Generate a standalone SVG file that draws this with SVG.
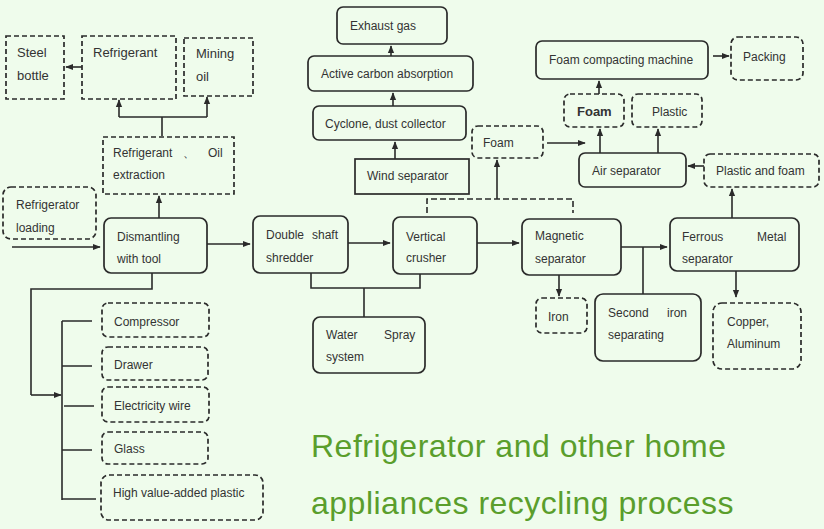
<svg xmlns="http://www.w3.org/2000/svg" width="824" height="529" viewBox="0 0 824 529">
<style>
.b{fill:none;stroke:#2a2a2a;stroke-width:1.7}
.d{fill:none;stroke:#2a2a2a;stroke-width:1.7;stroke-dasharray:5,3}
.c{fill:none;stroke:#2a2a2a;stroke-width:1.6}
.cd{fill:none;stroke:#2a2a2a;stroke-width:1.6;stroke-dasharray:6,3}
text{font-family:"Liberation Sans",Arial,sans-serif;font-size:12px;fill:#333}
.l{font-size:13px}
.t{font-size:32px;letter-spacing:0.5px;fill:#5a9e2c}
</style>
<defs>
<marker id="a" viewBox="0 0 10 10" refX="9" refY="5" markerWidth="5" markerHeight="5" orient="auto"><path d="M0,1L10,5L0,9z" fill="#2a2a2a"/></marker>
</defs>
<rect width="824" height="529" fill="#effcec"/>
<g id="connectors">
<path class="c" d="M82,67H66" marker-end="url(#a)"/>
<path class="c" d="M162,136V117M119,117H207"/>
<path class="c" d="M119,117V100" marker-end="url(#a)"/>
<path class="c" d="M207,117V97" marker-end="url(#a)"/>
<path class="c" d="M159,218V196" marker-end="url(#a)"/>
<path class="c" d="M12,247H100" marker-end="url(#a)"/>
<path class="c" d="M207,244H250" marker-end="url(#a)"/>
<path class="c" d="M348,243H390" marker-end="url(#a)"/>
<path class="c" d="M477,243H519" marker-end="url(#a)"/>
<path class="c" d="M621,247H667" marker-end="url(#a)"/>
<path class="c" d="M643,247V294"/>
<path class="c" d="M559,275V296" marker-end="url(#a)"/>
<path class="c" d="M736,271V297" marker-end="url(#a)"/>
<path class="c" d="M732,218V189" marker-end="url(#a)"/>
<path class="c" d="M704,166H688" marker-end="url(#a)"/>
<path class="c" d="M600,153V129" marker-end="url(#a)"/>
<path class="c" d="M658,153V129" marker-end="url(#a)"/>
<path class="c" d="M599,94V81" marker-end="url(#a)"/>
<path class="c" d="M713,56H729" marker-end="url(#a)"/>
<path class="c" d="M547,143H585" marker-end="url(#a)"/>
<path class="cd" d="M427,213V199H573V213"/>
<path class="c" d="M497,199V160" marker-end="url(#a)"/>
<path class="c" d="M395,159V142" marker-end="url(#a)"/>
<path class="c" d="M393,106V93" marker-end="url(#a)"/>
<path class="c" d="M391,56V46" marker-end="url(#a)"/>
<path class="c" d="M311,273V288H420V274M364,288V317"/>
<path class="c" d="M152,273V289H31V395"/>
<path class="c" d="M31,395H61" marker-end="url(#a)"/>
<path class="c" d="M62,321V500M62,321H92M62,366H92M64,406H94M62,450H92M62,499H96"/>
</g>
<g id="steel-bottle"><rect class="d" x="6" y="36" width="58" height="63"/><text class="l" x="17" y="57">Steel</text><text class="l" x="17" y="80">bottle</text></g>
<g id="refrigerant"><rect class="d" x="82" y="36" width="94" height="63"/><text class="l" x="93" y="57">Refrigerant</text></g>
<g id="mining-oil"><rect class="d" x="184" y="38" width="69" height="58"/><text class="l" x="196" y="58">Mining</text><text class="l" x="196" y="81">oil</text></g>
<g id="extraction"><rect class="d" x="103" y="137" width="131" height="57"/><text x="113" y="157">Refrigerant</text><text x="183" y="157">、</text><text x="208" y="157">Oil</text><text x="113" y="179">extraction</text></g>
<g id="loading"><rect class="d" x="3" y="187" width="93" height="52" rx="8"/><text x="16" y="209">Refrigerator</text><text x="16" y="232">loading</text></g>
<g id="dismantling"><rect class="b" x="104" y="218" width="103" height="55" rx="7"/><text x="117" y="241">Dismantling</text><text x="117" y="263">with tool</text></g>
<g id="shredder"><rect class="b" x="253" y="216" width="95" height="57" rx="7"/><text x="266" y="239">Double</text><text x="312" y="239">shaft</text><text x="266" y="262">shredder</text></g>
<g id="crusher"><rect class="b" x="393" y="217" width="84" height="57" rx="7"/><text x="406" y="241">Vertical</text><text x="406" y="262">crusher</text></g>
<g id="magnetic"><rect class="b" x="522" y="219" width="99" height="56" rx="7"/><text x="535" y="240">Magnetic</text><text x="535" y="263">separator</text></g>
<g id="ferrous"><rect class="b" x="670" y="218" width="129" height="53" rx="7"/><text x="682" y="241">Ferrous</text><text x="757" y="241">Metal</text><text x="682" y="263">separator</text></g>
<g id="second-iron"><rect class="b" x="595" y="294" width="106" height="67" rx="8"/><text x="608" y="317">Second</text><text x="667" y="317">iron</text><text x="608" y="339">separating</text></g>
<g id="copper"><rect class="d" x="713" y="303" width="88" height="66" rx="9"/><text x="727" y="326">Copper,</text><text x="727" y="348">Aluminum</text></g>
<g id="iron"><rect class="d" x="536" y="298" width="51" height="35" rx="6"/><text x="548" y="321">Iron</text></g>
<g id="water"><rect class="b" x="313" y="317" width="112" height="56" rx="7"/><text x="326" y="339">Water</text><text x="384" y="339">Spray</text><text x="326" y="361">system</text></g>
<g id="wind"><rect class="b" x="355" y="159" width="114" height="35"/><text x="367" y="180">Wind separator</text></g>
<g id="cyclone"><rect class="b" x="313" y="106" width="153" height="34" rx="6"/><text x="325" y="128">Cyclone, dust collector</text></g>
<g id="carbon"><rect class="b" x="308" y="56" width="165" height="35" rx="6"/><text x="321" y="78">Active carbon absorption</text></g>
<g id="exhaust"><rect class="b" x="337" y="7" width="110" height="37" rx="6"/><text x="350" y="30">Exhaust gas</text></g>
<g id="foam-mid"><rect class="d" x="472" y="126" width="71" height="32" rx="6"/><text x="483" y="147">Foam</text></g>
<g id="air"><rect class="b" x="579" y="153" width="107" height="34" rx="6"/><text x="592" y="175">Air separator</text></g>
<g id="plastic-foam"><rect class="d" x="704" y="154" width="115" height="33" rx="6"/><text x="716" y="175">Plastic and foam</text></g>
<g id="foam"><rect class="d" x="564" y="94" width="60" height="33" rx="6"/><text class="l" x="577" y="116" font-weight="bold">Foam</text></g>
<g id="plastic"><rect class="d" x="632" y="94" width="70" height="33" rx="6"/><text x="652" y="116">Plastic</text></g>
<g id="compacting"><rect class="b" x="536" y="41" width="172" height="38" rx="6"/><text x="549" y="64">Foam compacting machine</text></g>
<g id="packing"><rect class="d" x="731" y="37" width="72" height="43" rx="7"/><text x="743" y="61">Packing</text></g>
<g id="compressor"><rect class="d" x="102" y="303" width="107" height="34" rx="6"/><text x="114" y="326">Compressor</text></g>
<g id="drawer"><rect class="d" x="102" y="347" width="106" height="33" rx="6"/><text x="114" y="369">Drawer</text></g>
<g id="wire"><rect class="d" x="102" y="387" width="107" height="35" rx="6"/><text x="114" y="410">Electricity wire</text></g>
<g id="glass"><rect class="d" x="102" y="432" width="106" height="32" rx="6"/><text x="114" y="453">Glass</text></g>
<g id="plastic-hv"><rect class="d" x="101" y="475" width="162" height="45" rx="8"/><text x="113" y="497">High value-added plastic</text></g>
<g id="title"><text class="t" x="311" y="457">Refrigerator and other home</text><text class="t" x="311" y="514">appliances recycling process</text></g>
</svg>
